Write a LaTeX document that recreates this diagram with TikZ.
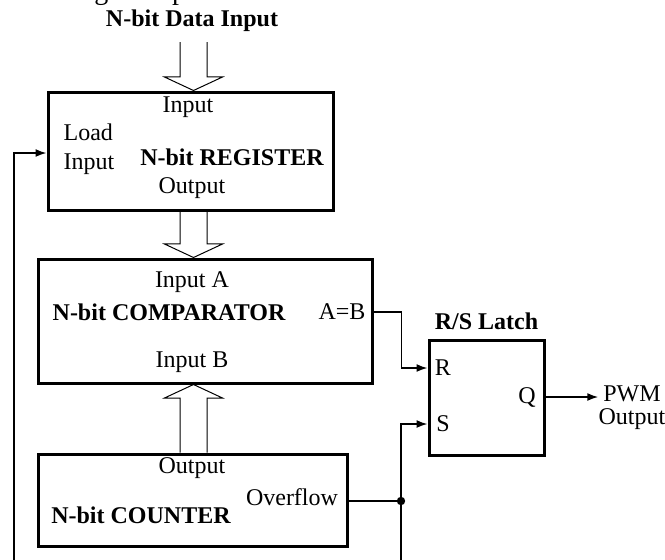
\documentclass[tikz,border=0pt]{standalone}
\usepackage{fontspec}
\setmainfont{Liberation Serif}
\usetikzlibrary{arrows.meta,positioning,calc}

\newcommand{\dfont}{\fontsize{12}{14.5}\selectfont}
% hollow bus arrow: tail #1, tip #2
\newcommand{\busarrow}[2]{%
  \path ($#2!6.8pt!#1$) coordinate (busbase);
  \draw[bus] ($#1!6.75pt!90:#2$) -- ($(busbase)!6.75pt!90:#2$) -- ($(busbase)!14.6pt!90:#2$)
    -- #2 -- ($(busbase)!14.6pt!-90:#2$) -- ($(busbase)!6.75pt!-90:#2$) -- ($#1!6.75pt!-90:#2$);}

\begin{document}
\begin{tikzpicture}[x=0.5pt,y=-0.5pt,font=\dfont,>={Latex[length=5.5pt,width=4pt]},
 box/.style={draw,line width=1.5pt,inner sep=0pt},
 bold/.style={font=\dfont\bfseries},
 wire/.style={line width=0.8pt},
 bus/.style={line width=0.5pt},
 dot/.style={circle,fill,inner sep=0pt,minimum size=4.2pt}]
\useasboundingbox (0,0) rectangle (665,559);
\node[anchor=base west,inner sep=0pt,font=\fontsize{14}{16}\selectfont] (cap) at (-1,-1) {switching time period.};
\node[bold] (datain) at (192,21) {N-bit Data Input};
\coordinate (busin) at (193.5,42);
% blocks
\node[box,minimum width=142.5pt,minimum height=59pt] (reg) at (190.5,151) {};
\node[box,minimum width=167pt,minimum height=62pt] (cmp) at (205,321) {};
\node[box,minimum width=154.5pt,minimum height=46pt] (cnt) at (192.5,500) {};
\node[box,minimum width=57.5pt,minimum height=57.5pt] (latch) at (486.5,397.5) {};
% register
\node (regin) at (188,107) {Input};
\node[align=left] (load) at (89,149) {Load\\Input};
\node[bold] (regname) at (232,157) {N-bit REGISTER};
\node (regout) at (192,188) {Output};
% comparator
\node (cmpa) at (192,282) {Input A};
\node[bold] (cmpname) at (169,312) {N-bit COMPARATOR};
\node (aeqb) at (342,312) {A=B};
\node (cmpb) at (192,362) {Input B};
% counter
\node (cntout) at (192,468) {Output};
\node (ovf) at (292,497) {Overflow};
\node[bold] (cntname) at (141,515) {N-bit COUNTER};
% latch
\node[bold,above=1pt of latch] (latchname) {R/S Latch};
\node (rlab) at (443,368) {R};
\node (slab) at (443,424) {S};
\node (qlab) at (527,397) {Q};
\node[align=center,inner sep=0pt,font=\fontsize{12}{11.5}\selectfont] (pwm) at (632,408) {PWM\\Output};
% buses
\busarrow{(busin)}{(reg.north -| busin)}
\busarrow{(reg.south -| busin)}{(cmp.north -| busin)}
\busarrow{(cnt.north -| busin)}{(cmp.south -| busin)}
% wires
\coordinate (junc) at (401,501);
\coordinate (sbot) at (401,565);
\coordinate (fbbot) at (14,565);
\draw[wire,->] (cmp.east |- aeqb) -- ++(28,0) |- (latch.west |- rlab);
\draw[wire,->] (latch.east |- qlab) -- (pwm.west |- qlab);
\draw[wire] (cnt.east |- junc) -- (junc);
\node[dot] (jdot) at (junc) {};
\draw[wire,->] (sbot) |- (latch.west |- slab);
\draw[wire,->] (fbbot) |- ([yshift=-1pt]reg.west);
\end{tikzpicture}
\end{document}
